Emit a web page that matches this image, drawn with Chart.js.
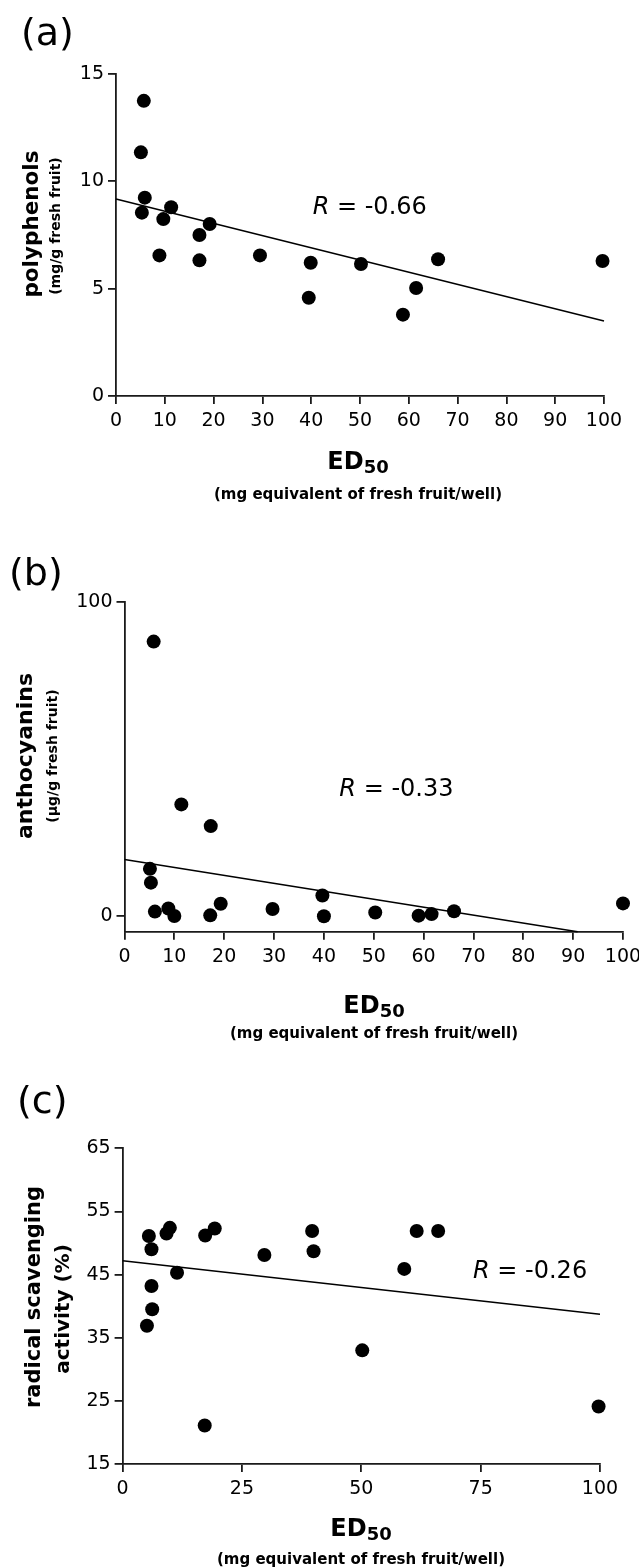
<!DOCTYPE html>
<html><head><meta charset="utf-8">
<script src="https://cdn.jsdelivr.net/npm/chart.js@4.4.1/dist/chart.umd.min.js"></script>
<style>
html,body{margin:0;padding:0;background:#fff;}
#wrap{position:relative;width:639px;height:1567px;overflow:hidden;background:#fff;}
canvas{position:absolute;left:0;}
.t{position:absolute;white-space:nowrap;font-family:"DejaVu Sans",sans-serif;color:#000;line-height:1;}
.b{font-weight:bold;}
</style></head><body><div id="wrap">
<canvas id="ca" width="639" height="520" style="top:0px"></canvas>
<canvas id="cb" width="639" height="525" style="top:520px"></canvas>
<canvas id="cc" width="639" height="522" style="top:1045px"></canvas>
</div>
<script>
// ---------- data ----------
const edA = [5.7, 5.1, 5.9, 5.3, 11.3, 9.7, 19.2, 17.1, 8.9, 17.1, 29.5, 39.9, 50.2, 66.0, 99.7, 39.5, 61.5, 58.8];
const polyphenols = [13.75, 11.35, 9.24, 8.54, 8.79, 8.24, 8.01, 7.50, 6.55, 6.32, 6.55, 6.21, 6.15, 6.37, 6.29, 4.58, 5.03, 3.79];
const fitAx = [0, 100];
const fitAy = [9.18, 3.49];

const edB = [5.85, 11.4, 17.3, 5.1, 5.3, 6.1, 8.8, 10.0, 17.2, 19.3, 29.7, 39.7, 40.0, 50.3, 59.0, 61.6, 66.1, 100];
const anthocyanins = [87.3, 35.5, 28.6, 15.0, 10.6, 1.4, 2.4, 0.0, 0.2, 3.9, 2.2, 6.5, -0.1, 1.1, 0.1, 0.6, 1.5, 4.0];
const fitBx = [0, 90.9];
const fitBy = [18.0, -5];

const edC = [5.5, 6.05, 9.2, 9.9, 11.4, 6.05, 17.3, 19.3, 29.7, 39.7, 40.0, 59.0, 61.6, 66.1, 6.2, 5.1, 17.2, 50.2, 99.7];
const scavenging = [51.1, 49.0, 51.5, 52.4, 45.3, 43.2, 51.2, 52.3, 48.1, 51.9, 48.7, 45.9, 51.9, 51.9, 39.5, 36.9, 21.1, 33.0, 24.1];
const fitCx = [0, 100];
const fitCy = [47.2, 38.7];

const xTicksAB = [0, 10, 20, 30, 40, 50, 60, 70, 80, 90, 100];
const xTicksC = [0, 25, 50, 75, 100];
const yTicksA = [0, 5, 10, 15];
const yTicksB = [0, 100];
const yTicksC = [15, 25, 35, 45, 55, 65];

const rValues = ['-0.66', '-0.33', '-0.26'];
const panelLabels = ['(a)', '(b)', '(c)'];
const yTitlesMain = ['polyphenols', 'anthocyanins', 'radical scavenging'];
const yTitlesSub = ['(mg/g fresh fruit)', '(µg/g fresh fruit)', 'activity (%)'];
const xTitle = 'ED';
const xTitleSub = '50';
const xSubtitle = '(mg equivalent of fresh fruit/well)';

// ---------- drawing ----------
const FONT = '"DejaVu Sans", sans-serif';
const AX = '#1a1a1a';

const rPlugin = {
  id: 'rlab',
  afterDatasetsDraw(chart, args, o) {
    const {ctx, scales: {x, y}} = chart;
    const px = x.getPixelForValue(o.x), py = y.getPixelForValue(o.y);
    ctx.save();
    ctx.fillStyle = '#000';
    ctx.textAlign = 'left';
    ctx.textBaseline = 'alphabetic';
    ctx.font = 'italic ' + o.size + 'px ' + FONT;
    ctx.fillText('R', px, py);
    const w = ctx.measureText('R').width;
    ctx.font = o.size + 'px ' + FONT;
    ctx.fillText(' = ' + o.value, px + w, py);
    ctx.restore();
  }
};

function makeChart(id, ed, vals, fx, fy, xTicks, yTicks, xMin, xMax, yMin, yMax, d, rl) {
  const pts = ed.map((v, i) => ({x: v, y: vals[i]}));
  const fit = fx.map((v, i) => ({x: v, y: fy[i]}));
  const tickFont = {family: FONT, size: 19};
  return new Chart(document.getElementById(id), {
    type: 'scatter',
    data: {datasets: [
      {type: 'line', data: fit, borderColor: '#000', borderWidth: 1.5, pointRadius: 0, fill: false, clip: false, order: 2},
      {data: pts, pointRadius: 7, pointHoverRadius: 7, backgroundColor: '#000', borderColor: '#000', borderWidth: 0, clip: false, order: 1}
    ]},
    options: {
      responsive: false, animation: false, events: [],
      layout: {padding: {top: d.top, left: 0, right: 639 - d.right, bottom: d.h - d.bottom - d.xh}},
      plugins: {legend: {display: false}, tooltip: {enabled: false}, rlab: rl},
      scales: {
        x: {
          type: 'linear', min: xMin, max: xMax,
          afterBuildTicks: s => { s.ticks = xTicks.map(v => ({value: v})); },
          afterFit: s => { s.height = d.xh; s.paddingLeft = 0; s.paddingRight = 0; },
          ticks: {font: tickFont, color: '#000', padding: 6, maxRotation: 0, autoSkip: false},
          grid: {drawOnChartArea: false, drawTicks: true, tickLength: 8, color: AX, lineWidth: 1.8},
          border: {display: true, color: AX, width: 1.8}
        },
        y: {
          type: 'linear', min: yMin, max: yMax,
          afterBuildTicks: s => { s.ticks = yTicks.map(v => ({value: v})); },
          afterFit: s => { s.width = d.left; s.paddingTop = 0; s.paddingBottom = 0; },
          ticks: {font: tickFont, color: '#000', padding: 4, autoSkip: false},
          grid: {drawOnChartArea: false, drawTicks: true, tickLength: 8, color: AX, lineWidth: 1.8},
          border: {display: true, color: AX, width: 1.8}
        }
      }
    },
    plugins: [rPlugin]
  });
}

makeChart('ca', edA, polyphenols, fitAx, fitAy, xTicksAB, yTicksA, 0, 100, 0, 15,
  {h: 520, top: 74, left: 116, right: 604, bottom: 396, xh: 60},
  {x: 40.3, y: 8.5, value: rValues[0], size: 24});
makeChart('cb', edB, anthocyanins, fitBx, fitBy, xTicksAB, yTicksB, 0, 100, -5, 100,
  {h: 525, top: 81.7, left: 124.5, right: 623, bottom: 411.7, xh: 60},
  {x: 43.1, y: 38.3, value: rValues[1], size: 24});
makeChart('cc', edC, scavenging, fitCx, fitCy, xTicksC, yTicksC, 0, 100, 15, 65,
  {h: 522, top: 103.3, left: 122.6, right: 600, bottom: 419, xh: 60},
  {x: 73.4, y: 44.4, value: rValues[2], size: 24});

// ---------- HTML titles ----------
const wrap = document.getElementById('wrap');
function txt(html, css) {
  const e = document.createElement('div');
  e.className = 't' + (css.bold ? ' b' : '');
  e.innerHTML = html;
  e.style.fontSize = css.size + 'px';
  if (css.rot) {
    e.style.left = css.cx + 'px';
    e.style.top = css.cy + 'px';
    e.style.transform = 'translate(-50%,-50%) rotate(-90deg)';
  } else if (css.center) {
    e.style.left = css.cx + 'px';
    e.style.top = (css.base - 0.846 * css.size) + 'px';
    e.style.transform = 'translateX(-50%)';
  } else {
    e.style.left = css.x + 'px';
    e.style.top = (css.base - 0.846 * css.size) + 'px';
  }
  wrap.appendChild(e);
  return e;
}
const panels = [
  {lab: {x: 21, base: 45, size: 38}, y1: {cx: 31, cy: 224, size: 21.5}, y2: {cx: 55, cy: 226, size: 14}, 
   ed: {cx: 358, base: 469}, sub: {cx: 358, base: 499.5}},
  {lab: {x: 9, base: 585, size: 38}, y1: {cx: 24.5, cy: 756, size: 22}, y2: {cx: 52, cy: 756, size: 14},
   ed: {cx: 374, base: 1013}, sub: {cx: 374, base: 1038.5}},
  {lab: {x: 17, base: 1113, size: 38}, y1: {cx: 33, cy: 1297, size: 21}, y2: {cx: 62, cy: 1309, size: 20},
   ed: {cx: 361, base: 1536}, sub: {cx: 361, base: 1564.5}}
];
panels.forEach((p, i) => {
  txt(panelLabels[i], {x: p.lab.x, base: p.lab.base, size: p.lab.size});
  txt(yTitlesMain[i], {rot: true, bold: true, cx: p.y1.cx, cy: p.y1.cy, size: p.y1.size});
  txt(yTitlesSub[i], {rot: true, bold: true, cx: p.y2.cx, cy: p.y2.cy, size: p.y2.size});
  txt(xTitle + '<sub style="font-size:18px;vertical-align:-4px;line-height:1">' + xTitleSub + '</sub>',
      {center: true, bold: true, cx: p.ed.cx, base: p.ed.base, size: 24});
  txt(xSubtitle, {center: true, bold: true, cx: p.sub.cx, base: p.sub.base, size: 15});
});
</script>
</body></html>
